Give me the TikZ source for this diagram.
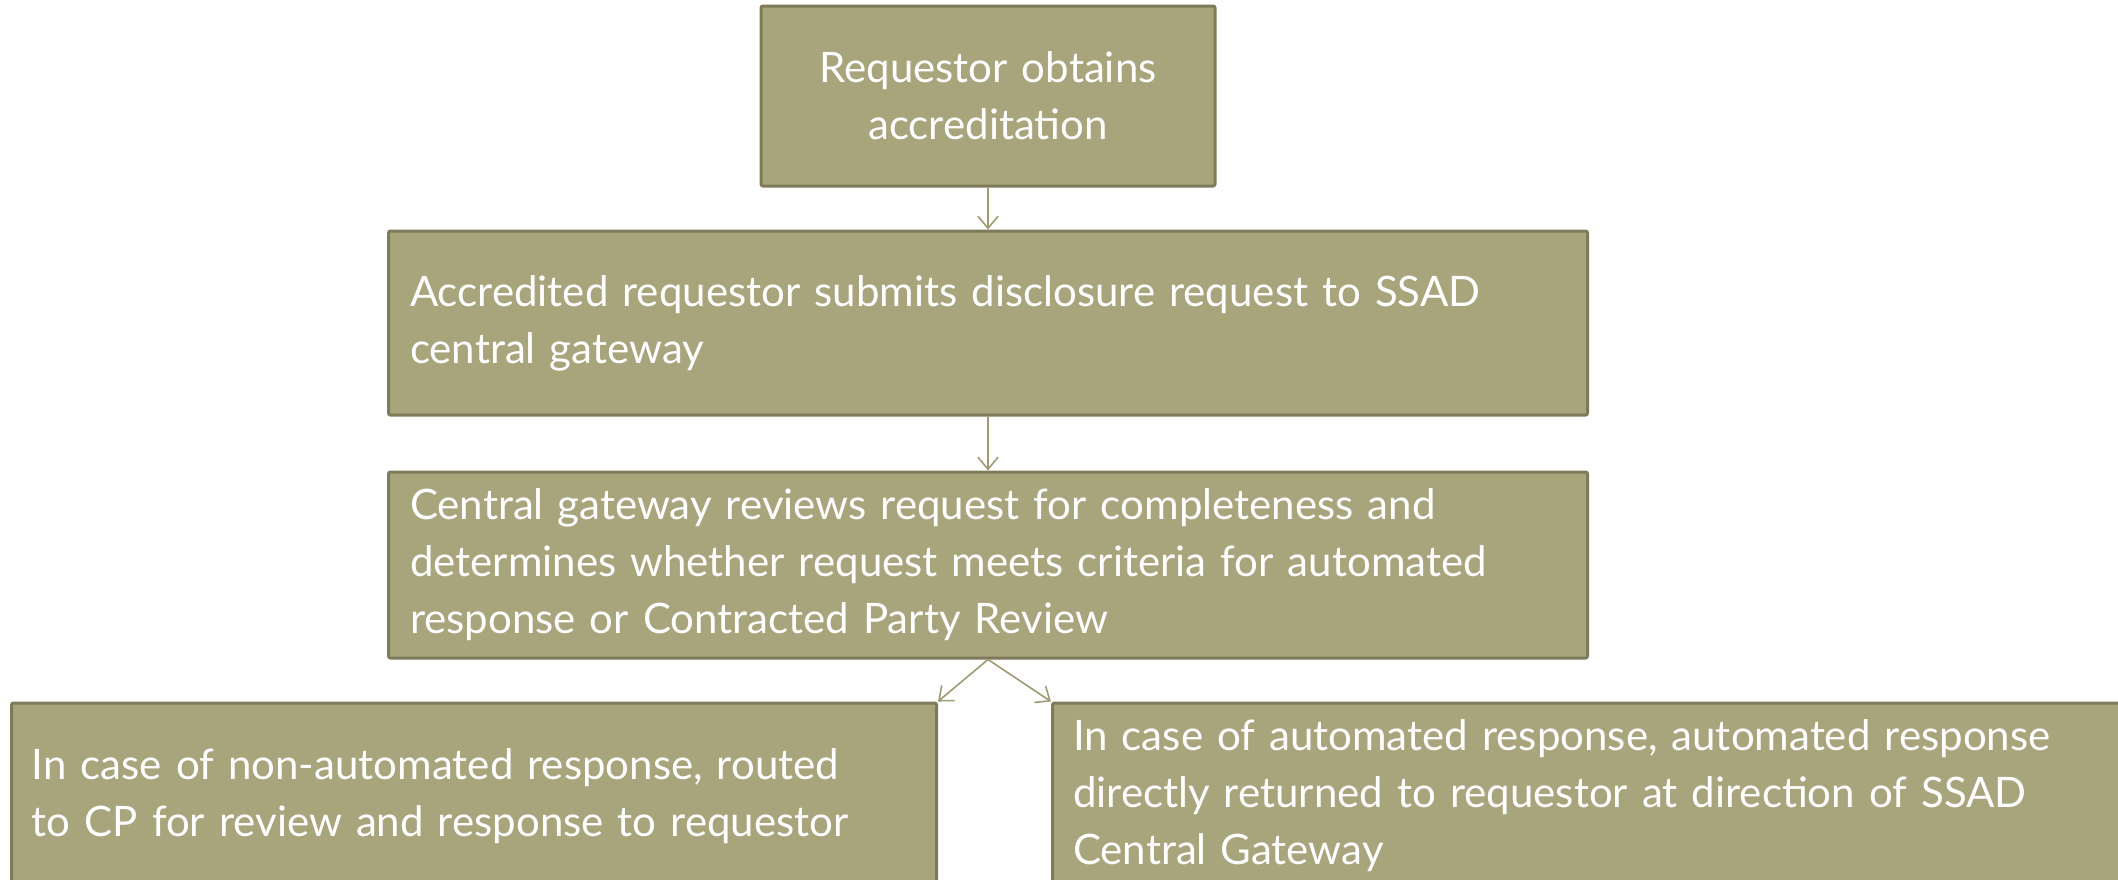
\documentclass[tikz,border=0pt]{standalone}
\usepackage{fontspec}
\setmainfont{Lato}
\usetikzlibrary{positioning}
\usetikzlibrary{arrows.meta}
\definecolor{olivekhaki}{RGB}{168,164,124}
\definecolor{darkolive}{RGB}{127,122,90}
\definecolor{arrowolive}{RGB}{158,154,114}
\tikzset {
        stepbox/.style={align=left, inner xsep=10pt, inner ysep=0pt, rectangle, draw=darkolive, fill=olivekhaki, text=white, line width=1.5pt, rounded corners=1pt,
          font=\fontsize{21}{28.5}\selectfont},
        flowarrow/.style={arrowolive, line width=0.8pt, -{Straight Barb[length=6pt,width=10pt]}},
        default/.style={}
}

\begin{document}
\begin{tikzpicture}[x=0.5pt, y=-0.5pt, every node/.style=stepbox]
            \useasboundingbox (0,0) rectangle (2118,879);
            \clip (0,0) rectangle (2118,879);
            \node[align=center, text width=207pt, minimum width=227pt, minimum height=90pt] (ObtainAccreditation) at (988,96) {
                Requestor obtains\\accreditation
            };
            \node[below=21pt of ObtainAccreditation, text width=578pt, minimum width=599.5pt, minimum height=92pt] (SubmitRequest) {
                Accredited requestor submits disclosure request to SSAD\\central gateway
            };
            \node[below=27pt of SubmitRequest, text width=578pt, minimum width=599.5pt, minimum height=93pt] (ReviewRequest) {
                Central gateway reviews request for completeness and\\determines whether request meets criteria for automated\\response or Contracted Party Review
            };
            \node[below=21pt of ReviewRequest.south, anchor=north east, xshift=-25pt, text width=442pt, minimum width=462.5pt, minimum height=93pt] (ManualResponse) {
                In case of non-automated response, routed\\to CP for review and response to requestor
            };
            \node[below=21pt of ReviewRequest.south, anchor=north west, xshift=31.5pt, text width=529pt, minimum width=549.5pt, minimum height=93pt] (AutomatedResponse) {
                In case of automated response, automated response\\directly returned to requestor at direction of SSAD\\Central Gateway
            };

            \draw[flowarrow] (ObtainAccreditation) -- (SubmitRequest);
            \draw[flowarrow] (SubmitRequest) -- (ReviewRequest);
            \draw[flowarrow] (ReviewRequest.south) -- (ManualResponse.north east);
            \draw[flowarrow] (ReviewRequest.south) -- (AutomatedResponse.north west);
\end{tikzpicture}
\end{document}
